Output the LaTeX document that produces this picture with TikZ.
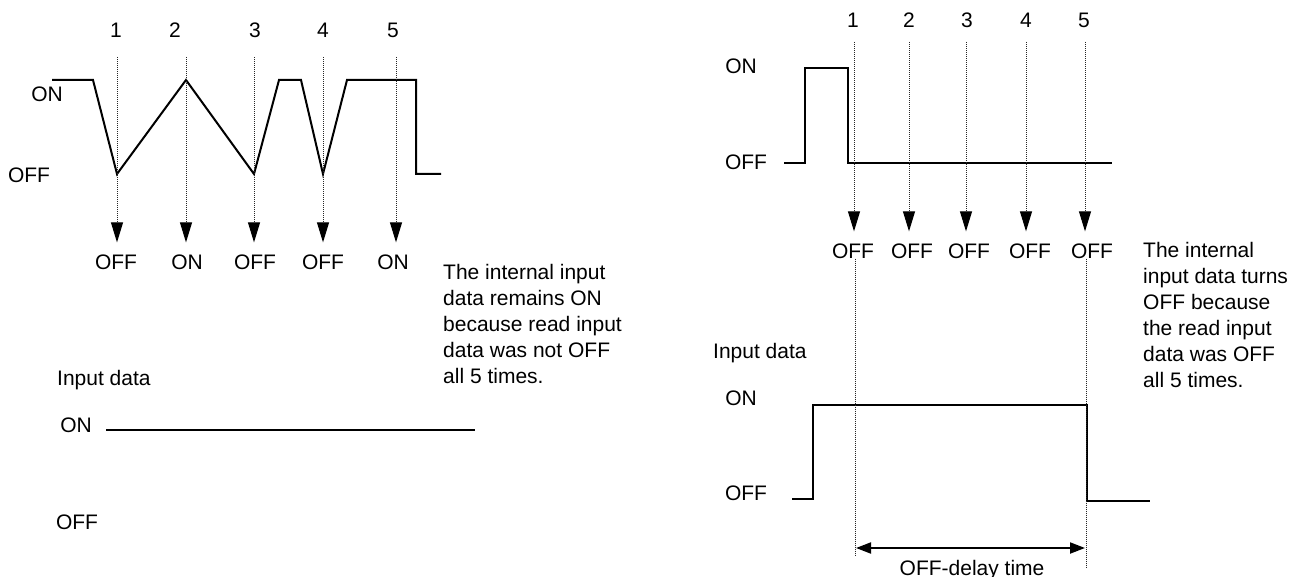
\documentclass[tikz,border=0pt]{standalone}
\usepackage{fontspec}
\setmainfont{Liberation Sans}
\usetikzlibrary{arrows.meta, positioning}
\tikzset{
  lvl/.style={font=\fontsize{21}{24}\selectfont, inner sep=0pt},
  note/.style={font=\fontsize{21}{26}\selectfont, align=left, anchor=north west, inner sep=0pt},
  sig/.style={line width=2pt, line join=miter},
  samp/.style={densely dotted, line width=1pt, black!85, shorten >=12pt,
               -{Triangle[length=20pt, width=12pt, black]}},
  guide/.style={densely dotted, line width=1pt, black!85},
  span/.style={line width=2pt, {Triangle[length=15pt, width=11pt]}-{Triangle[length=15pt, width=11pt]}}
}

\begin{document}
\begin{tikzpicture}[x=1pt, y=-1pt]
\useasboundingbox (0,0) rectangle (1303,577);

% left: read input chatters
\node[lvl] (lon) at (47,94) {ON};
\node[lvl] (loff) at (29,175) {OFF};
\draw[sig] (52,80) -- (93,80) -- (117,174) -- (186,80) -- (254,174) -- (279,80) -- (301,80)
  -- (323,174) -- (347,80) -- (416,80) -- (416,174) -- (441,174);
\foreach \i/\xn/\xs/\xl/\v in {1/116/117/116/OFF, 2/175/186/187/ON, 3/255/254/255/OFF,
                              4/323/323/323/OFF, 5/393/396/393/ON} {
  \node[lvl] (ln\i) at (\xn,30) {\i};
  \coordinate (lt\i) at (\xs,57);
  \node[lvl] (lr\i) at (\xl,262) {\v};
  \draw[samp] (lt\i) -- (lt\i |- lr\i.north);
}
\node[note] (lnote) at (443,264) {The internal input\\data remains ON\\because read input\\data was not OFF\\all 5 times.};

% left: internal input data
\node[lvl, anchor=base west] (lin) at (57,385) {Input data};
\node[lvl] (lion) at (76,425) {ON};
\node[lvl] (lioff) at (77,522) {OFF};
\draw[sig] (106,430) -- (475,430);

% right: read input stays OFF
\node[lvl] (ron) at (741,66) {ON};
\node[lvl] (roff) at (746,162) {OFF};
\draw[sig] (784,163) -- (805,163) -- (805,68) -- (848,68) -- (848,163) -- (1112,163);
\foreach \i/\xn/\xs/\xl in {1/853/854/853, 2/909/909/912, 3/967/966/969,
                           4/1026/1026/1030, 5/1084/1085/1092} {
  \node[lvl] (rn\i) at (\xn,20) {\i};
  \coordinate (rt\i) at (\xs,42);
  \node[lvl] (rr\i) at (\xl,251) {OFF};
  \draw[samp] (rt\i) -- (rt\i |- rr\i.north);
}
\node[note] (rnote) at (1143,242) {The internal\\input data turns\\OFF because\\the read input\\data was OFF\\all 5 times.};

% right: internal input data with OFF delay
\node[lvl, anchor=base west] (rin) at (713,358) {Input data};
\node[lvl] (rion) at (741,398) {ON};
\node[lvl] (rioff) at (746,493) {OFF};
\draw[line width=1.5pt] (792,499) -- (813,499) -- (813,405) -- (1087,405) -- (1087,501) -- (1150,501);
\coordinate (g1) at (855,555);
\coordinate (g5) at (1086,567);
\draw[guide] (g1 |- rr1.south) -- (g1);
\draw[guide] (g5 |- rr5.south) -- (g5);
\coordinate (d1) at (856,548);
\coordinate (d5) at (1085,548);
\draw[span] (d1) -- (d5);
\node[lvl, anchor=base] (dly) at (972,575) {OFF-delay time};
\end{tikzpicture}
\end{document}
